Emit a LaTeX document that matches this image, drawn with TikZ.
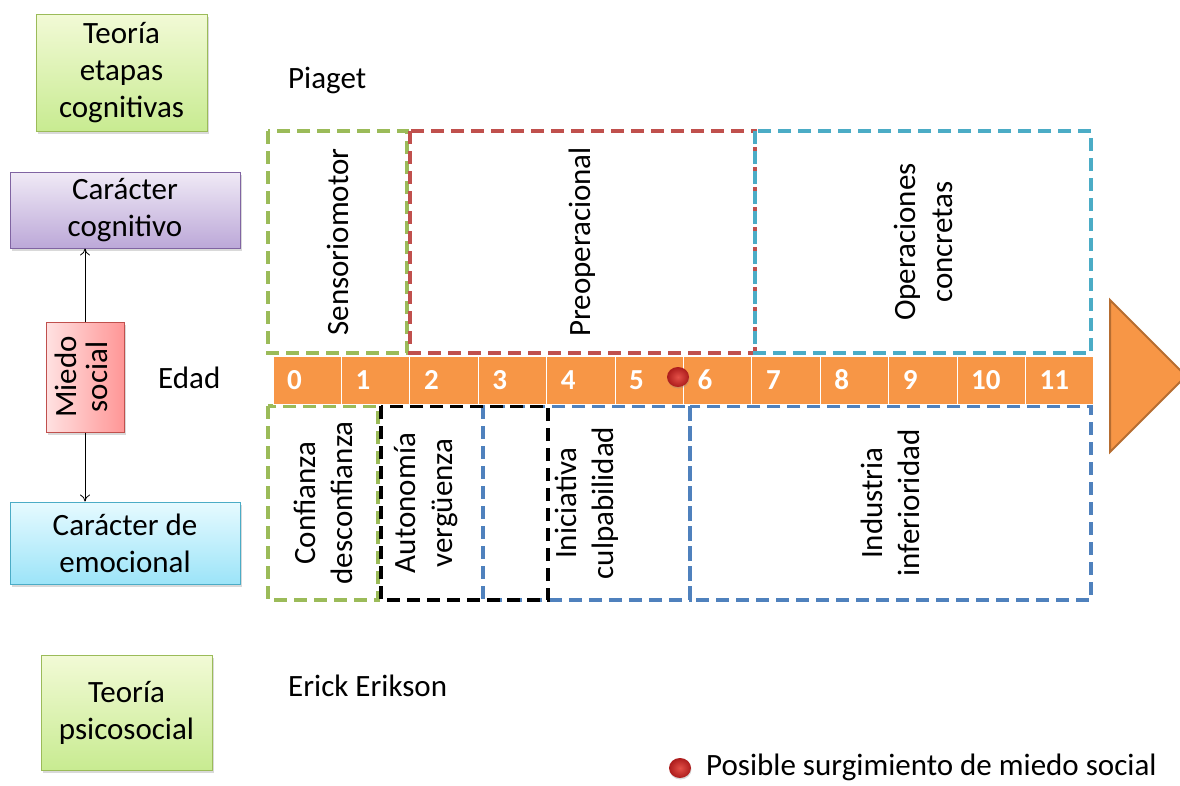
\documentclass[tikz,border=0pt]{standalone}
\usepackage{fontspec}
\setmainfont{Carlito}
\usetikzlibrary{shadows,arrows.meta,shapes.geometric}
\definecolor{cgreen}{HTML}{9BBB59}
\definecolor{cred}{HTML}{C0504D}
\definecolor{ccyan}{HTML}{4BACC6}
\definecolor{cblue}{HTML}{4F81BD}
\definecolor{corange}{HTML}{F79646}
\definecolor{corangedk}{HTML}{B66D31}
\definecolor{cpurple}{HTML}{8064A2}
\begin{document}
\begin{tikzpicture}[x=1pt,y=-1pt,
  every node/.style={font=\fontsize{31}{37}\selectfont, inner sep=0pt},
  sbox/.style={draw, line width=1pt, align=center,
    drop shadow={shadow xshift=2pt, shadow yshift=-3pt, opacity=0.3}},
  greenbox/.style={sbox, draw=cgreen, top color={rgb,255:red,242;green,250;blue,214}, bottom color={rgb,255:red,200;green,235;blue,145},
    minimum width=171pt},
  dbox/.style={draw, dash pattern=on 13pt off 7pt, line width=3.2pt, rotate=90, align=center},
  cellbox/.style={fill=corange, draw=white, line width=1pt, minimum width=68.4pt, minimum height=48pt,
    text width=40pt, inner xsep=14.2pt, align=left, text=white,
    font=\fontsize{29}{30}\selectfont\bfseries},
  dot/.style={ellipse, minimum width=22pt, minimum height=20pt,
    inner color={rgb,255:red,228;green,80;blue,72}, outer color={rgb,255:red,172;green,28;blue,28},
    drop shadow={shadow xshift=0.5pt, shadow yshift=-1.5pt, opacity=0.3}},
  conn/.style={-{To[length=7pt,width=10pt]}, line width=0.8pt}
]
\useasboundingbox (0,0) rectangle (1180,785);

% left boxes
\node[greenbox, minimum height=117pt] (A) at (121.5,72.5) {Teoría\\etapas\\cognitivas};
\node[sbox, draw=cpurple, top color={rgb,255:red,240;green,234;blue,246}, bottom color={rgb,255:red,188;green,168;blue,216},
  minimum width=230pt, minimum height=76pt] (B) at (125,210) {Carácter\\cognitivo};
\node[sbox, draw=cred, left color={rgb,255:red,255;green,226;blue,226}, right color={rgb,255:red,255;green,150;blue,150},
  minimum width=78pt, minimum height=110pt] (C) at (85,377) {\rotatebox{90}{\begin{tabular}{@{}c@{}}Miedo\\[-6pt]social\end{tabular}}};
\node[sbox, draw=ccyan, top color={rgb,255:red,230;green,250;blue,255}, bottom color={rgb,255:red,156;green,228;blue,248},
  minimum width=230pt, minimum height=82pt] (D) at (125,543) {Carácter de\\emocional};
\node[greenbox, minimum height=115pt] (E) at (126.5,712.5) {Teoría\\psicosocial};

\draw[conn] (C.north) -- (C.north |- B.south);
\draw[conn] (C.south) -- (C.south |- D.north);

% labels
\node[anchor=west] (piaget) at (288,80) {Piaget};
\node[anchor=west] (edad) at (158,378) {Edad};
\node[anchor=west] (erikson) at (288,686) {Erick Erikson};

% top dashed boxes
\node[dbox, draw=cgreen, minimum width=222pt, minimum height=139pt] (s1) at (337.5,242) {Sensoriomotor};
\node[dbox, draw=cred, minimum width=222pt, minimum height=345pt] (s2) at (582.5,242) {Preoperacional};
\node[dbox, draw=ccyan, minimum width=222pt, minimum height=336pt] (s3) at (923,242) {Operaciones\\concretas};

% bottom dashed boxes
\node[dbox, draw=cgreen, minimum width=194pt, minimum height=110pt] (e1) at (323,503) {Confianza\\desconfianza};
\node[dbox, draw=cblue, minimum width=194pt, minimum height=207pt] (e3) at (586.5,503) {Iniciativa\\culpabilidad};
\node[dbox, draw=black, minimum width=194pt, minimum height=167pt] (e2) at (464.5,503) {};
\node[rotate=90, align=center] (e2t) at (426,503) {Autonomía\\vergüenza};
\node[dbox, draw=cblue, minimum width=194pt, minimum height=401pt] (e4) at (890.5,503) {Industria\\inferioridad};

% timeline bar
\foreach \i in {0,...,11}
  \node[cellbox] (c\i) at ({273+68.4*\i+34.2},380) {\i};

% arrow head
\filldraw[fill=corange, draw=corangedk, line width=2pt] (1110,300) -- (1186,376) -- (1110,452) -- cycle;

% dot on timeline
\node[dot] (d1) at (678,377) {};

% legend
\node[dot] (d2) at (680,768) {};
\node[anchor=west, font=\fontsize{31}{36}\selectfont] (leg) at (706,767) {Posible surgimiento de miedo social};
\end{tikzpicture}
\end{document}
